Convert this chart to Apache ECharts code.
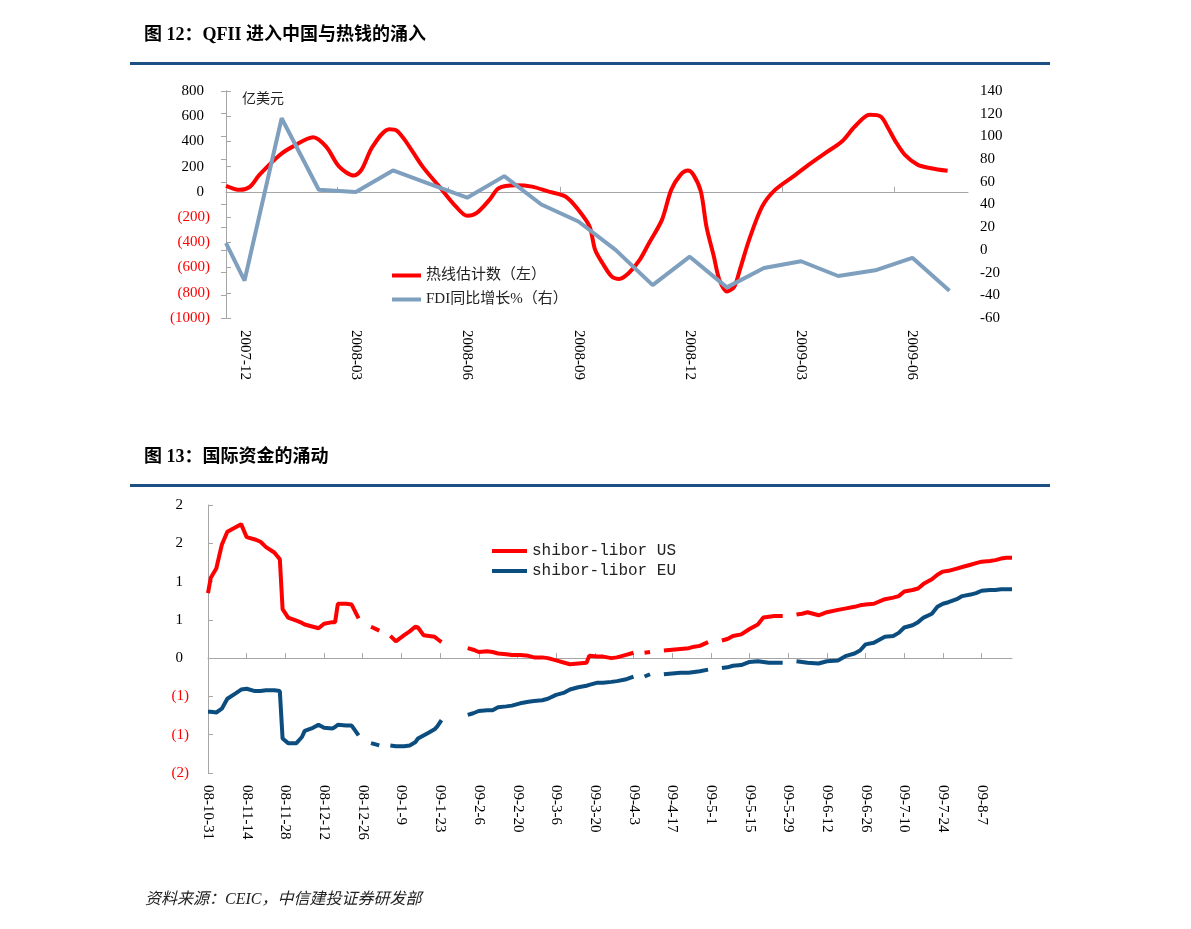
<!DOCTYPE html>
<html><head><meta charset="utf-8">
<script src="https://cdn.jsdelivr.net/npm/echarts@6/dist/echarts.min.js"></script>
<style>html,body{margin:0;padding:0;background:#fff}#c{width:1191px;height:929px}</style>
</head><body><div id="c"></div>
<script>
// ---------- Chart 12 data (x = months since 2007-12-01) ----------
const monthTickLabels = ['2007-12','2008-03','2008-06','2008-09','2008-12','2009-03','2009-06'];
const monthLabelT = [0.5,3.5,6.5,9.5,12.5,15.5,18.5];
const monthTickT = [0,3,6,9,12,15,18];

const hotT = [0,0.375,0.65,0.9,1.45,1.8,2.35,2.7,3.05,3.45,
  3.65,3.95,4.4,4.6,4.85,5.3,5.75,6.2,6.5,6.75,
  7.1,7.35,7.8,8.25,8.7,9.15,9.5,9.8,9.95,10.15,
  10.4,10.6,10.85,11.15,11.4,11.75,12.0,12.25,12.45,12.6,
  12.8,12.95,13.15,13.3,13.5,13.7,13.85,14.1,14.45,14.8,
  15.35,15.7,16.15,16.6,16.95,17.35,17.65,17.85,18.05,18.3,
  18.65,19.0,19.45];
const hotV = [48,16,42,135,293,359,434,359,200,130,
  174,359,497,486,399,200,42,-117,-190,-169,
  -63,29,53,42,2,-37,-143,-275,-460,-566,
  -672,-690,-645,-539,-407,-222,16,135,169,135,
  2,-275,-513,-698,-790,-751,-618,-380,-117,16,
  135,214,307,399,518,611,597,505,399,293,
  214,188,167];

const fdiT = [0,0.5,1.5,2.5,3.5,4.5,5.5,6.5,7.5,8.5,
  9.5,10.5,11.5,12.5,13.5,14.5,15.5,16.5,17.5,18.5,19.5];
const fdiV = [6,-27,116,53,51,70,58,46,65,40,
  25,0,-31,-6,-33,-16,-10,-23,-18,-7,-36];

// ---------- Chart 13 data (x = days since 2008-10-31) ----------
const dateTickLabels = ['08-10-31','08-11-14','08-11-28','08-12-12','08-12-26','09-1-9','09-1-23',
  '09-2-6','09-2-20','09-3-6','09-3-20','09-4-3','09-4-17','09-5-1','09-5-15','09-5-29',
  '09-6-12','09-6-26','09-7-10','09-7-24','09-8-7'];
const dateTickDays = dateTickLabels.map((_, i) => i * 14);

const days = [0,1,3,5,7,10,12,14,17,19,
  21,24,26,27,29,32,34,35,38,40,
  42,45,46,47,50,52,54.5,56.5,59,62,
  64,66,68,71,73,75,76,78,80,82,
  83,84.5,89,94,96,98,101,103,105,108,
  110,113,116,118,121,123,126,129,131,134,
  137,138,141,143,146,148,151,154,156,158,
  160,162.5,165,168,171,174,176,178,181,184,
  186,188,190,193,196,199,201,203,205,208,
  210.5,213,215,217,221,224,228,231,234,236,
  238,241,245,248,250,252,255,257,259,262,
  264,266,268,271,273,276,278,280,283,285,
  287,289,291];
const usSpread = [.85,1.05,1.17,1.48,1.65,1.71,1.75,1.58,1.55,1.52,
  1.45,1.38,1.29,.64,.53,.49,.46,.44,.41,.39,
  .45,.47,.47,.71,.71,.70,.52,null,.41,.36,
  null,.29,.22,.30,.35,.41,.40,.30,.29,.28,
  .25,.21,null,.13,.11,.08,.09,.08,.06,.05,
  .04,.04,.03,.01,.01,.00,-.03,-.06,-.08,-.07,
  -.06,.03,.02,.02,.00,.01,.04,.07,null,.07,
  .08,null,.10,.11,.12,.13,.15,.16,.21,null,
  .23,.25,.29,.31,.38,.44,.53,.54,.55,.55,
  null,.57,.58,.60,.56,.60,.63,.65,.67,.69,
  .70,.71,.77,.79,.81,.87,.89,.91,.97,1.03,
  1.09,1.13,1.14,1.17,1.19,1.22,1.24,1.26,1.27,1.28,
  1.30,1.31,1.31];
const euSpread = [-.70,-.70,-.71,-.66,-.53,-.46,-.41,-.40,-.43,-.43,
  -.42,-.42,-.43,-1.05,-1.11,-1.11,-1.03,-.95,-.91,-.87,
  -.91,-.92,-.90,-.87,-.88,-.88,-1.01,null,-1.11,-1.14,
  null,-1.14,-1.15,-1.15,-1.14,-1.10,-1.05,-1.01,-.97,-.93,
  -.89,-.81,null,-.74,-.72,-.69,-.68,-.68,-.64,-.63,
  -.62,-.59,-.57,-.56,-.55,-.53,-.48,-.45,-.41,-.38,
  -.36,-.35,-.32,-.32,-.31,-.30,-.28,-.24,null,-.24,
  -.21,null,-.21,-.20,-.19,-.19,-.18,-.17,-.15,null,
  -.13,-.12,-.10,-.09,-.05,-.04,-.05,-.06,-.06,-.06,
  null,-.04,-.05,-.06,-.07,-.04,-.03,.03,.06,.10,
  .18,.20,.28,.29,.33,.40,.43,.47,.53,.58,
  .67,.71,.73,.77,.81,.83,.85,.88,.89,.89,
  .90,.90,.90];

// ---------- styling ----------
const AX = '#a6a6a6';
const NUMF = "'Liberation Serif','Noto Sans CJK SC',serif";
const RED = '#ff0000', NAVY = '#0c4d80', STEEL = '#7f9fbf', RULE = '#1c4f84';

function parenLabel(text, neg) { return neg ? '{n|(' + text + ')}' : '{p|' + text + '}'; }
const richParen = {
  p: { fontFamily: NUMF, fontSize: 15, color: '#000', padding: [0, 6, 0, 0] },
  n: { fontFamily: NUMF, fontSize: 15, color: RED }
};

const chart = echarts.init(document.getElementById('c'), null, { renderer: 'canvas' });
const option = {
  animation: false,
  backgroundColor: '#fff',
  grid: [
    { left: 226, top: 91, width: 742, height: 227 },
    { left: 208, top: 505, width: 804, height: 268 }
  ],
  xAxis: [
    { type: 'value', gridIndex: 0, min: 0, max: 20,
      axisLine: { show: true, onZero: true, onZeroAxisIndex: 0, lineStyle: { color: AX, width: 1 } },
      axisTick: { show: true, inside: true, length: 5, customValues: monthTickT, lineStyle: { color: AX } },
      axisLabel: { show: false }, splitLine: { show: false } },
    { type: 'value', gridIndex: 0, min: 0, max: 20, position: 'bottom',
      axisLine: { show: false, onZero: false }, axisTick: { show: false }, splitLine: { show: false },
      axisLabel: { customValues: monthLabelT, rotate: -90, margin: 12, fontFamily: NUMF, fontSize: 15, color: '#000',
        formatter: v => monthTickLabels[monthLabelT.indexOf(v)] || '' } },
    { type: 'value', gridIndex: 1, min: 0, max: 291,
      axisLine: { show: true, onZero: true, onZeroAxisIndex: 2, lineStyle: { color: AX, width: 1 } },
      axisTick: { show: true, inside: true, length: 5, customValues: dateTickDays, lineStyle: { color: AX } },
      axisLabel: { show: false }, splitLine: { show: false } },
    { type: 'value', gridIndex: 1, min: 0, max: 291, position: 'bottom',
      axisLine: { show: false, onZero: false }, axisTick: { show: false }, splitLine: { show: false },
      axisLabel: { customValues: dateTickDays, rotate: -90, margin: 12, fontFamily: NUMF, fontSize: 15, color: '#000',
        formatter: v => dateTickLabels[Math.round(v / 14)] || '' } }
  ],
  yAxis: [
    { type: 'value', gridIndex: 0, position: 'left', min: -1000, max: 800, interval: 200,
      axisLine: { show: true, lineStyle: { color: AX } },
      axisTick: { show: true, inside: true, length: 5, lineStyle: { color: AX } },
      splitLine: { show: false },
      axisLabel: { margin: 16, rich: richParen, formatter: v => parenLabel(Math.abs(v), v < 0) } },
    { type: 'value', gridIndex: 0, position: 'right', min: -60, max: 140, interval: 20,
      axisLine: { show: true, lineStyle: { color: AX } },
      axisTick: { show: true, inside: true, length: 5, lineStyle: { color: AX } },
      splitLine: { show: false },
      axisLabel: { margin: 12, fontFamily: NUMF, fontSize: 15, color: '#000' } },
    { type: 'value', gridIndex: 1, min: -1.5, max: 2, interval: 0.5,
      axisLine: { show: true, lineStyle: { color: AX } },
      axisTick: { show: true, inside: true, length: 5, lineStyle: { color: AX } },
      splitLine: { show: false },
      axisLabel: { margin: 19, rich: richParen, formatter: v => parenLabel(Math.round(Math.abs(v)), v < 0) } }
  ],
  legend: [
    { orient: 'vertical', left: 387, top: 263, icon: 'rect', itemWidth: 29, itemHeight: 4, itemGap: 9,
      data: ['热线估计数（左）', 'FDI同比增长%（右）'],
      textStyle: { fontFamily: NUMF, fontSize: 15, color: '#222' } },
    { orient: 'vertical', left: 487, top: 538, icon: 'rect', itemWidth: 35, itemHeight: 4, itemGap: 4,
      data: ['shibor-libor US', 'shibor-libor EU'],
      textStyle: { fontFamily: "'Liberation Mono',monospace", fontSize: 16, color: '#222' } }
  ],
  series: [
    { type: 'line', name: '热线估计数（左）', xAxisIndex: 0, yAxisIndex: 0,
      data: hotT.map((t, i) => [t, hotV[i]]), smooth: 0.3, showSymbol: false,
      lineStyle: { color: RED, width: 4 }, itemStyle: { color: RED } },
    { type: 'line', name: 'FDI同比增长%（右）', xAxisIndex: 0, yAxisIndex: 1,
      data: fdiT.map((t, i) => [t, fdiV[i]]), showSymbol: false,
      lineStyle: { color: STEEL, width: 4 }, itemStyle: { color: STEEL } },
    { type: 'line', name: 'shibor-libor US', xAxisIndex: 2, yAxisIndex: 2,
      data: days.map((d, i) => [d, usSpread[i]]), showSymbol: false, connectNulls: false,
      lineStyle: { color: RED, width: 4 }, itemStyle: { color: RED } },
    { type: 'line', name: 'shibor-libor EU', xAxisIndex: 2, yAxisIndex: 2,
      data: days.map((d, i) => [d, euSpread[i]]), showSymbol: false, connectNulls: false,
      lineStyle: { color: NAVY, width: 4 }, itemStyle: { color: NAVY } }
  ],
  graphic: [
    { type: 'text', left: 144, top: 26, style: { text: '图 12：QFII 进入中国与热钱的涌入', font: "bold 18px 'Liberation Serif','Noto Sans CJK SC',serif", fill: '#000' } },
    { type: 'rect', shape: { x: 130, y: 62, width: 920, height: 3 }, style: { fill: RULE } },
    { type: 'text', left: 242, top: 91, style: { text: '亿美元', font: "14px 'Noto Sans CJK SC',sans-serif", fill: '#222' } },
    { type: 'text', left: 144, top: 448, style: { text: '图 13：国际资金的涌动', font: "bold 18px 'Liberation Serif','Noto Sans CJK SC',serif", fill: '#000' } },
    { type: 'rect', shape: { x: 130, y: 484, width: 920, height: 3 }, style: { fill: RULE } },
    { type: 'text', left: 145, top: 892, style: { text: '资料来源：CEIC，中信建投证券研发部', font: "italic 16px 'Liberation Serif','Noto Sans CJK SC',serif", fill: '#222' } }
  ]
};
chart.setOption(option);
</script>
</body></html>
